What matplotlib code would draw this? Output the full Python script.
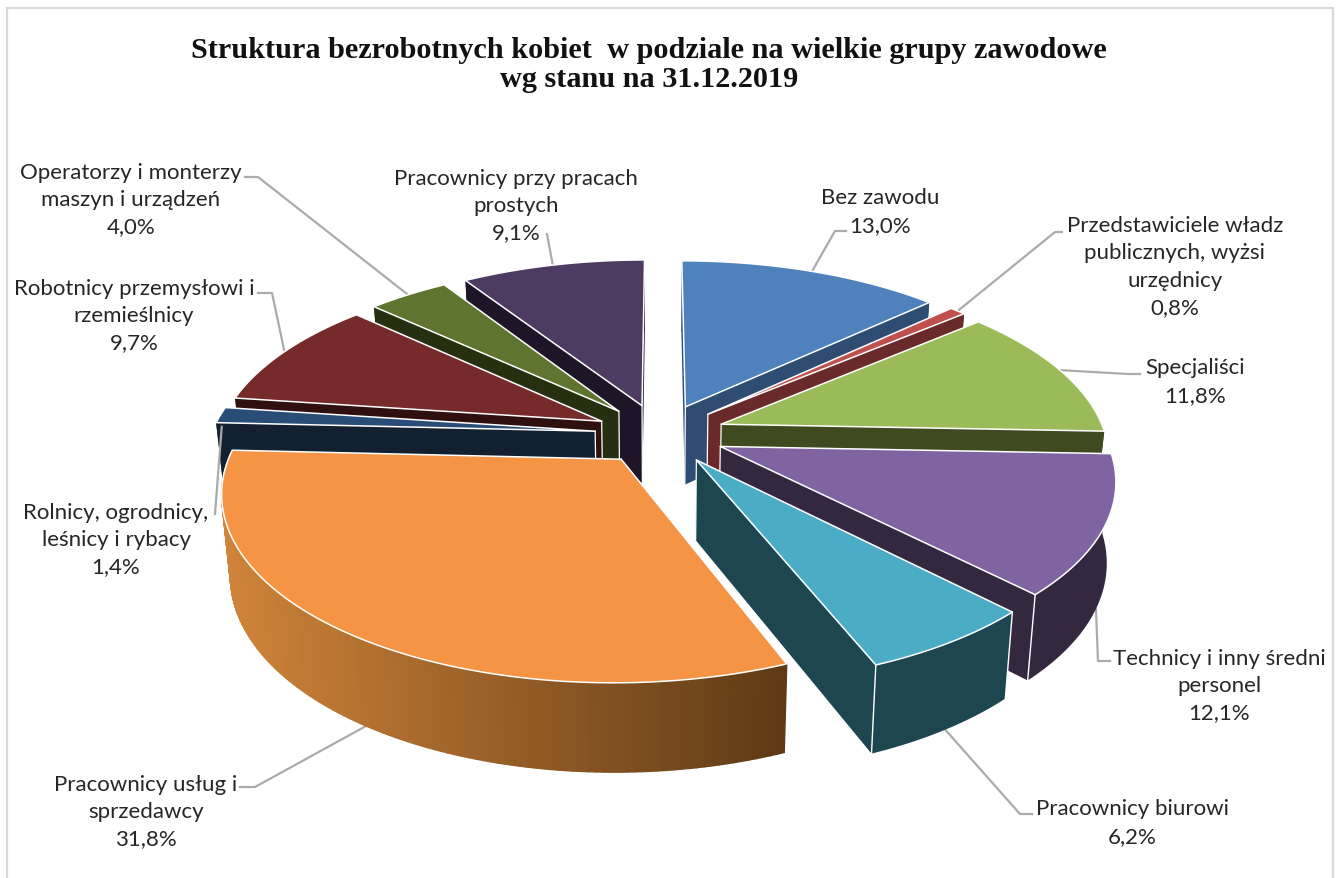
import numpy as np
import matplotlib
matplotlib.use("Agg")
import matplotlib.pyplot as plt
from matplotlib.colors import to_rgb
from matplotlib.patches import Polygon, Rectangle

TITLE = "Struktura bezrobotnych kobiet  w podziale na wielkie grupy zawodowe\nwg stanu na 31.12.2019"

CATEGORIES = [
    "Bez zawodu",
    "Przedstawiciele władz\npublicznych, wyżsi\nurzędnicy",
    "Specjaliści",
    "Technicy i inny średni\npersonel",
    "Pracownicy biurowi",
    "Pracownicy usług i\nsprzedawcy",
    "Rolnicy, ogrodnicy,\nleśnicy i rybacy",
    "Robotnicy przemysłowi i\nrzemieślnicy",
    "Operatorzy i monterzy\nmaszyn i urządzeń",
    "Pracownicy przy pracach\nprostych",
]
VALUES = [13.0, 0.8, 11.8, 12.1, 6.2, 31.8, 1.4, 9.7, 4.0, 9.1]

TOP_COLORS = ["#4F81BD", "#C0504D", "#9BBB59", "#8064A2", "#4BACC6",
              "#F49444", "#2A4D78", "#772A2A", "#5F752F", "#4D3B62"]
WALL_COLORS = ["#2F4D73", "#6B2A2A", "#3F4A20", "#33283F", "#1D4650",
               "#5F3A15", "#132030", "#300F0F", "#262F10", "#1E1528"]
RIM_LEFT_COLORS = {5: "#D08439"}

# where each label sits, and the elbow of its leader line (pixels)
LABEL_POS = [(880, 212), (1175, 267), (1195, 382), (1219, 686), (1132, 823),
             (146, 812), (116, 540), (134, 316), (131, 200), (516, 206)]
ELBOWS = [[(835, 232), (846, 232)], [(1055, 233), (1062, 233)],
          [(1128, 375), (1140, 375)], [(1098, 662), (1110, 662)],
          [(1020, 815), (1032, 815)], [(255, 788), (240, 788)],
          [(215, 515)], [(272, 294), (258, 294)],
          [(258, 178), (245, 178)], [(547, 235)]]
LEADER_DEPTH = [0, 0, 0, 1, 1, 1, 0.15, 0, 0, 0]
LEADER_ALONG = [0.5, 0.5, 0.5, 0.5, 0.5, 0.487, 0.5, 0.5, 0.5, 0.5]

CX, CY = 660, 435
RX, RY = 384, 178
PERSP = 0.163
EXPLODE = 0.17
DEPTH = 79


def project(u, v, depth=0.0):
    s = 1 / (1 + PERSP * v)
    x = CX + RX * u * s * (1 - 0.02 * depth)
    y = CY - RY * v * s + DEPTH * depth * s ** 0.6
    return np.column_stack([x, y])


def slice_angles():
    shares = np.array(VALUES) / sum(VALUES)
    edges = np.concatenate([[0], np.cumsum(shares)]) * 2 * np.pi
    return edges[:-1], edges[1:]


def slice_outline(a0, a1):
    mid = (a0 + a1) / 2
    ou, ov = EXPLODE * np.sin(mid), EXPLODE * np.cos(mid)
    angles = np.linspace(a0, a1, max(int((a1 - a0) * 60), 4))
    return ou, ov, ou + np.sin(angles), ov + np.cos(angles)


def draw_slice(ax, i, a0, a1):
    ou, ov, us, vs = slice_outline(a0, a1)
    apex_top = project(np.array([ou]), np.array([ov]))
    apex_bot = project(np.array([ou]), np.array([ov]), 1)
    rim_top = project(us, vs)
    rim_bot = project(us, vs, 1)
    wall = WALL_COLORS[i]

    # radial walls first, the top face covers whatever should be hidden
    for k in (0, -1):
        pts = np.vstack([apex_top, rim_top[k], rim_bot[k], apex_bot])
        ax.add_patch(Polygon(pts, fc=wall, ec="none", zorder=2))
    ax.plot([apex_top[0, 0], apex_bot[0, 0]], [apex_top[0, 1], apex_bot[0, 1]],
            color="white", lw=0.9, zorder=2)

    if i in RIM_LEFT_COLORS:
        left = np.array(to_rgb(RIM_LEFT_COLORS[i]))
        right = np.array(to_rgb(wall))
        xmin, xmax = rim_top[:, 0].min(), rim_top[:, 0].max()
        for k in range(len(us) - 1):
            t = (rim_top[k, 0] - xmin) / (xmax - xmin)
            pts = np.vstack([rim_top[k], rim_top[k + 1], rim_bot[k + 1], rim_bot[k]])
            col = left + (right - left) * t
            ax.add_patch(Polygon(pts, fc=col, ec=col, lw=1.0, zorder=2))
    else:
        pts = np.vstack([rim_top, rim_bot[::-1]])
        ax.add_patch(Polygon(pts, fc=wall, ec="none", zorder=2))
        # white corner line only on the corners facing the viewer
        for k in (0, -1):
            if vs[k] < -0.2:
                ax.plot([rim_top[k, 0], rim_bot[k, 0]], [rim_top[k, 1], rim_bot[k, 1]],
                        color="white", lw=1.0, zorder=2)

    top = np.vstack([apex_top, rim_top])
    ax.add_patch(Polygon(top, fc=TOP_COLORS[i], ec="white", lw=1.1, joinstyle="round", zorder=2))


def main():
    fig = plt.figure(figsize=(13.36, 8.79), dpi=100)
    ax = fig.add_axes([0, 0, 1, 1])
    ax.set_xlim(0, 1336)
    ax.set_ylim(879, 0)
    ax.axis("off")

    ax.add_patch(Rectangle((7, 9), 1326, 885, fc="white", ec="#D9D9D9", lw=1.6))

    starts, ends = slice_angles()
    mids = (starts + ends) / 2

    for i in range(len(VALUES)):
        ang = starts[i] + (ends[i] - starts[i]) * LEADER_ALONG[i]
        u = EXPLODE * np.sin(mids[i]) + np.sin(ang)
        v = EXPLODE * np.cos(mids[i]) + np.cos(ang)
        start = project(np.array([u]), np.array([v]), LEADER_DEPTH[i])[0]
        pts = np.vstack([start, ELBOWS[i]])
        # the Rolnicy line runs in front of the chart, the others stop at its rim
        ax.plot(pts[:, 0], pts[:, 1], color="#ABABAB", lw=1.6, zorder=5 if i == 6 else 1)

    order = sorted(range(len(VALUES)), key=lambda n: -np.cos(mids[n]))
    for i in order:
        draw_slice(ax, i, starts[i], ends[i])

    for i, name in enumerate(CATEGORIES):
        label = f"{name}\n{VALUES[i]:.1f}%".replace(".", ",")
        ax.text(LABEL_POS[i][0], LABEL_POS[i][1], label, ha="center", va="center",
                family="Lato", fontsize=16, color="#262626", linespacing=1.46)

    ax.text(649, 65, TITLE, ha="center", va="center", family="Liberation Serif",
            fontweight="bold", fontsize=21.8, color="#111111", linespacing=1.12)

    fig.savefig("out.png", dpi=100)


if __name__ == "__main__":
    main()
